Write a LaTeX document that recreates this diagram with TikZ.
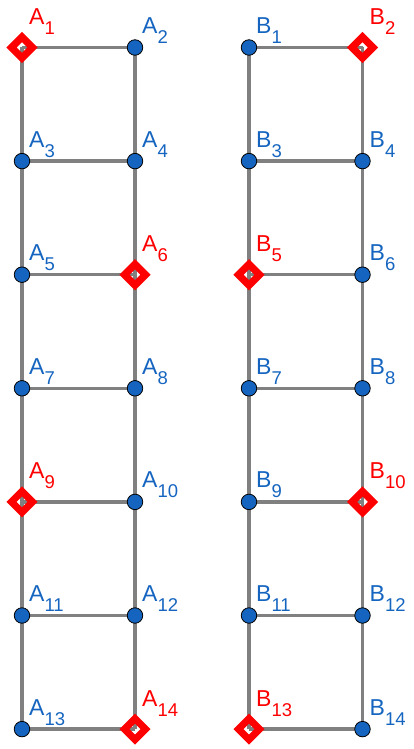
\documentclass[tikz,border=0pt]{standalone}
\usepackage{fontspec}
\setmainfont{Liberation Sans}
\usetikzlibrary{backgrounds}
\definecolor{ptblue}{RGB}{21,101,192}
\definecolor{ptred}{RGB}{255,0,0}
\definecolor{seggray}{RGB}{128,128,128}
\newcommand\sbs[1]{\raisebox{-10pt}{\fontsize{18.5}{18.5}\selectfont #1}}
\tikzset{
  seg/.style={draw=seggray, line width=3.4pt},
  bdot/.style={circle, fill=ptblue, draw=black, line width=0.8pt, minimum size=15.5pt, inner sep=0pt},
  rdia/.style={circle, minimum size=21pt, inner sep=0pt},
  diapath/.style={draw=ptred, line width=7.2pt, miter limit=10, line join=miter},
  lab/.style={anchor=base west, inner sep=0pt, font=\fontsize{23}{23}\selectfont},
  blab/.style={lab, text=ptblue},
  rlab/.style={lab, text=ptred}
}
\begin{document}
\begin{tikzpicture}[x=1pt,y=-1pt]
\useasboundingbox (0,0) rectangle (413,749);
% points A
\node[rdia] (A1)  at (22,47.5)  {};
\node[bdot] (A2)  at (135,47.5) {};
\node[bdot] (A3)  at (22,161.1) {};
\node[bdot] (A4)  at (135,161.1) {};
\node[bdot] (A5)  at (22,274.7) {};
\node[rdia] (A6)  at (135,274.7) {};
\node[bdot] (A7)  at (22,388.3) {};
\node[bdot] (A8)  at (135,388.3) {};
\node[rdia] (A9)  at (22,501.9) {};
\node[bdot] (A10) at (135,501.9) {};
\node[bdot] (A11) at (22,615.5) {};
\node[bdot] (A12) at (135,615.5) {};
\node[bdot] (A13) at (22,729.1) {};
\node[rdia] (A14) at (135,729.1) {};
% points B
\node[bdot] (B1)  at (249,47.5)  {};
\node[rdia] (B2)  at (362.5,47.5) {};
\node[bdot] (B3)  at (249,161.1) {};
\node[bdot] (B4)  at (362.5,161.1) {};
\node[rdia] (B5)  at (249,274.7) {};
\node[bdot] (B6)  at (362.5,274.7) {};
\node[bdot] (B7)  at (249,388.3) {};
\node[bdot] (B8)  at (362.5,388.3) {};
\node[bdot] (B9)  at (249,501.9) {};
\node[rdia] (B10) at (362.5,501.9) {};
\node[bdot] (B11) at (249,615.5) {};
\node[bdot] (B12) at (362.5,615.5) {};
\node[rdia] (B13) at (249,729.1) {};
\node[bdot] (B14) at (362.5,729.1) {};
% diamond markers
\foreach \n in {A1,A6,A9,A14,B2,B5,B10,B13}{
  \draw[diapath] (\n.center) ++(0,-10.5) -- ++(10.5,10.5) -- ++(-10.5,10.5) -- ++(-10.5,-10.5) -- cycle;
}
% segments
\begin{pgfonlayer}{background}
\foreach \L in {A,B}{
  \draw[seg] (\L1.center) -- (\L3.center) -- (\L5.center) -- (\L7.center) -- (\L9.center) -- (\L11.center) -- (\L13.center);
  \draw[seg] (\L2.center) -- (\L4.center) -- (\L6.center) -- (\L8.center) -- (\L10.center) -- (\L12.center) -- (\L14.center);
  \foreach \o/\e in {1/2,3/4,5/6,7/8,9/10,11/12,13/14}{
    \draw[seg] (\L\o.center) -- (\L\e.center);
  }
}
\end{pgfonlayer}
% labels A
\node[rlab] (lA1)  at (29,24.5)   {A\sbs{1}};
\node[blab] (lA2)  at (142,33.5)  {A\sbs{2}};
\node[blab] (lA3)  at (29,147.1)  {A\sbs{3}};
\node[blab] (lA4)  at (142,147.1) {A\sbs{4}};
\node[blab] (lA5)  at (29,260.7)  {A\sbs{5}};
\node[rlab] (lA6)  at (142,251.7) {A\sbs{6}};
\node[blab] (lA7)  at (29,374.3)  {A\sbs{7}};
\node[blab] (lA8)  at (142,374.3) {A\sbs{8}};
\node[rlab] (lA9)  at (29,478.9)  {A\sbs{9}};
\node[blab] (lA10) at (142,487.9) {A\sbs{10}};
\node[blab] (lA11) at (29,601.5)  {A\sbs{11}};
\node[blab] (lA12) at (142,601.5) {A\sbs{12}};
\node[blab] (lA13) at (29,715.1)  {A\sbs{13}};
\node[rlab] (lA14) at (142,706.1) {A\sbs{14}};
% labels B
\node[blab] (lB1)  at (256,33.5)   {B\sbs{1}};
\node[rlab] (lB2)  at (369.5,24.5) {B\sbs{2}};
\node[blab] (lB3)  at (256,147.1)  {B\sbs{3}};
\node[blab] (lB4)  at (369.5,147.1) {B\sbs{4}};
\node[rlab] (lB5)  at (256,251.7)  {B\sbs{5}};
\node[blab] (lB6)  at (369.5,260.7) {B\sbs{6}};
\node[blab] (lB7)  at (256,374.3)  {B\sbs{7}};
\node[blab] (lB8)  at (369.5,374.3) {B\sbs{8}};
\node[blab] (lB9)  at (256,487.9)  {B\sbs{9}};
\node[rlab] (lB10) at (369.5,478.9) {B\sbs{10}};
\node[blab] (lB11) at (256,601.5)  {B\sbs{11}};
\node[blab] (lB12) at (369.5,601.5) {B\sbs{12}};
\node[rlab] (lB13) at (256,706.1)  {B\sbs{13}};
\node[blab] (lB14) at (369.5,715.1) {B\sbs{14}};
\end{tikzpicture}
\end{document}
